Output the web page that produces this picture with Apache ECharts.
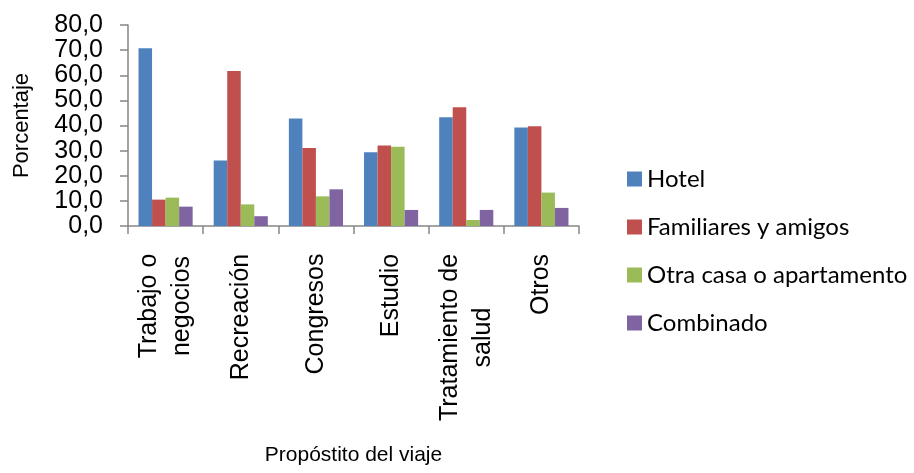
<!DOCTYPE html>
<html>
<head>
<meta charset="utf-8">
<script src="https://cdn.jsdelivr.net/npm/echarts@6/dist/echarts.min.js"></script>
<style>
html,body{margin:0;padding:0;background:#fff;}
#chart{width:914px;height:473px;}
</style>
</head>
<body>
<div id="chart"></div>
<script>
const categories = ['Trabajo o\nnegocios', 'Recreación', 'Congresos', 'Estudio', 'Tratamiento de\nsalud', 'Otros'];
const hotel = [70.7, 26.1, 42.8, 29.4, 43.3, 39.2];
const familiares = [10.5, 61.7, 31.0, 32.0, 47.3, 39.7];
const otraCasa = [11.3, 8.6, 11.8, 31.5, 2.4, 13.3];
const combinado = [7.7, 3.9, 14.6, 6.4, 6.4, 7.2];
const seriesNames = ['Hotel', 'Familiares y amigos', 'Otra casa o apartamento', 'Combinado'];
const colors = ['#4F81BD', '#C0504D', '#9BBB59', '#8064A2'];

const catFont = 25;
const catFamily = 'Liberation Sans';
const ctx = document.createElement('canvas').getContext('2d');
ctx.font = catFont + 'px "' + catFamily + '"';
const rich = {};
categories.forEach((c, i) => {
  const w = Math.max(...c.split('\n').map(l => ctx.measureText(l).width));
  rich['c' + i] = { width: Math.ceil(w) + 1, align: 'center', fontSize: catFont, fontFamily: catFamily, lineHeight: 33, color: '#000' };
});

const chart = echarts.init(document.getElementById('chart'));
const dataSets = [hotel, familiares, otraCasa, combinado];
chart.setOption({
  animation: false,
  backgroundColor: '#ffffff',
  grid: { left: 128, right: 335, top: 25, bottom: 247, containLabel: false },
  legend: {
    orient: 'vertical',
    left: 622,
    top: 162,
    itemWidth: 15,
    itemHeight: 15,
    itemGap: 24,
    icon: 'rect',
    textStyle: { fontFamily: 'Lato', fontSize: 24, color: '#000' },
    data: seriesNames
  },
  xAxis: {
    type: 'category',
    data: categories,
    name: 'Propóstito del viaje',
    nameLocation: 'middle',
    nameGap: 219,
    nameTextStyle: { fontFamily: 'Liberation Sans', fontSize: 21, color: '#000' },
    axisLine: { lineStyle: { color: '#868686', width: 1.5 } },
    axisTick: { show: true, length: 8, lineStyle: { color: '#868686', width: 1.5 } },
    axisLabel: {
      rotate: 90,
      margin: 27,
      interval: 0,
      fontFamily: catFamily,
      fontSize: catFont,
      lineHeight: 33,
      color: '#000',
      formatter: (v, idx) => v.split('\n').map(l => '{c' + idx + '|' + l + '}').join('\n'),
      rich: rich
    }
  },
  yAxis: {
    type: 'value',
    min: 0,
    max: 80,
    interval: 10,
    name: 'Porcentaje',
    nameLocation: 'middle',
    nameGap: 95,
    nameRotate: 90,
    nameTextStyle: { fontFamily: 'Liberation Sans', fontSize: 22, color: '#000' },
    splitLine: { show: false },
    axisLine: { show: true, lineStyle: { color: '#868686', width: 1.5 } },
    axisTick: { show: true, length: 8, lineStyle: { color: '#868686', width: 1.5 } },
    axisLabel: {
      margin: 25,
      fontFamily: 'Liberation Sans',
      fontSize: 25,
      color: '#000',
      formatter: v => v.toFixed(1).replace('.', ',')
    }
  },
  series: seriesNames.map((n, i) => ({
    name: n,
    type: 'bar',
    data: dataSets[i],
    barGap: '0%',
    barCategoryGap: '28%',
    itemStyle: { color: colors[i] }
  }))
});
</script>
</body>
</html>
